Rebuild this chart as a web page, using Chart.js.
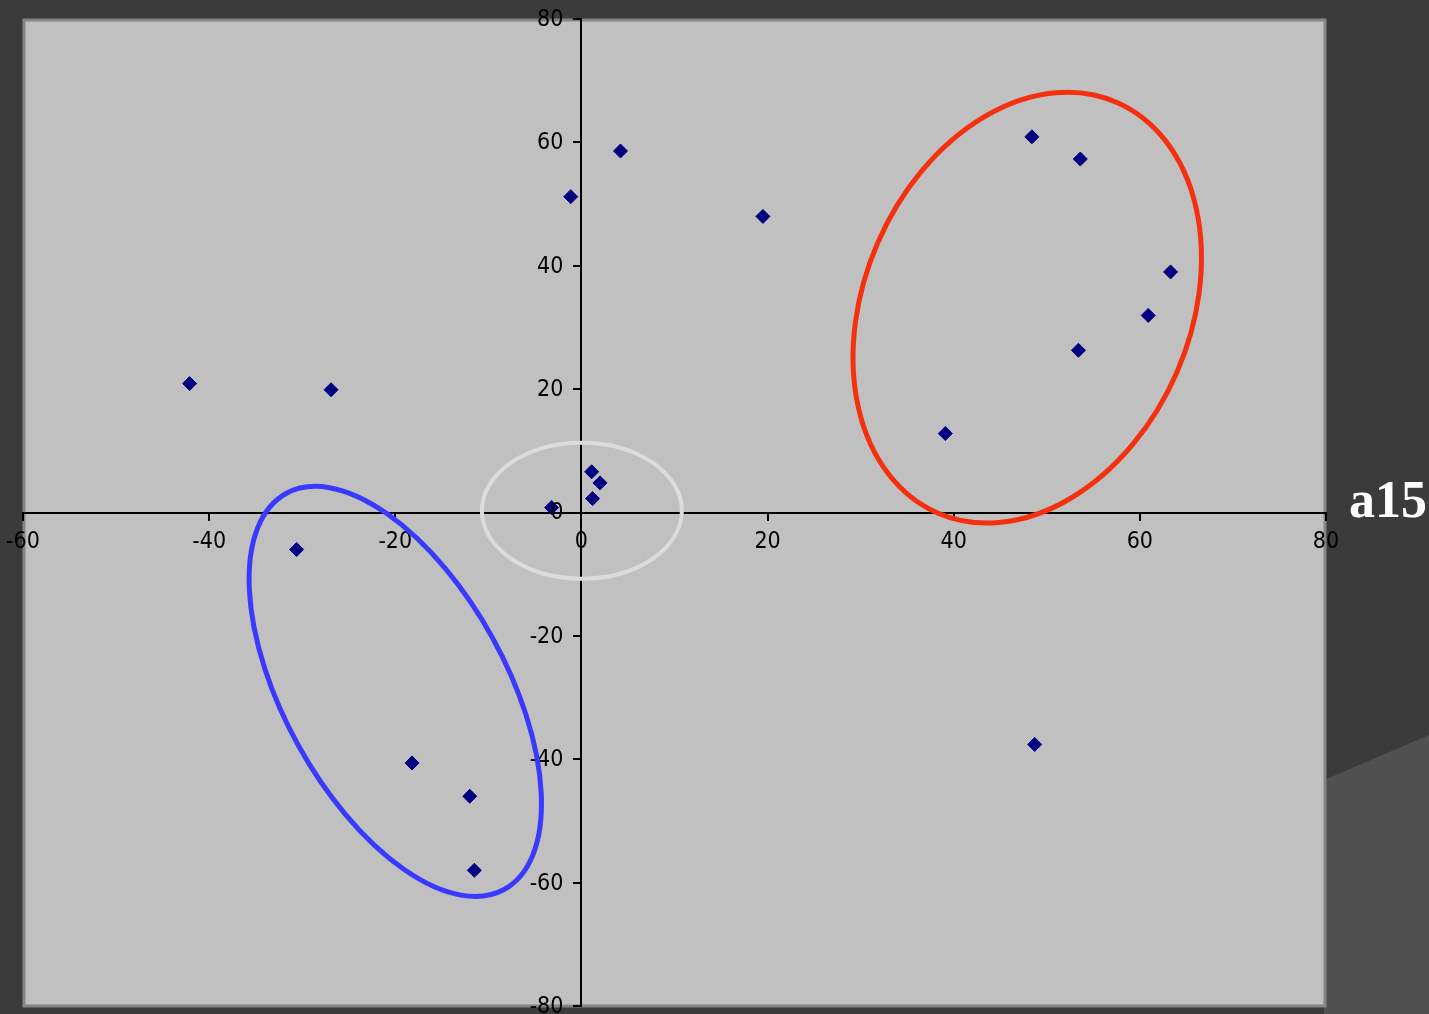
<!DOCTYPE html>
<html>
<head>
<meta charset="utf-8">
<title>a15</title>
<script src="https://cdn.jsdelivr.net/npm/chart.js@4.4.1/dist/chart.umd.min.js"></script>
<style>
  html, body { margin: 0; padding: 0; background: #3b3b3b; overflow: hidden; }
  #wrap { position: relative; width: 1429px; height: 1014px; }
  #wedge {
    position: absolute; left: 0; top: 0; width: 1429px; height: 1014px;
    background: #505050;
    clip-path: polygon(1324px 780px, 1429px 735px, 1429px 1014px, 1324px 1014px);
  }
  #label {
    position: absolute; left: 1349px; top: 474px;
    font: bold 52px/52px "Liberation Serif", "Times New Roman", serif;
    color: #ffffff;
  }
  canvas { position: absolute; left: 0; top: 0; }
</style>
</head>
<body>
<div id="wrap">
  <div id="wedge"></div>
  <canvas id="chart" width="1429" height="1014"></canvas>
  <div id="label">a15</div>
</div>
<script>
// Values
const xValues = [-42.1, -26.9, -30.6, -18.2, -12.0, -11.5, -3.2, 1.1, 2.0, 1.2,
                 -1.15, 4.2, 19.5, 48.4, 53.6, 63.3, 60.9, 53.4, 39.1, 48.7];
const yValues = [20.9, 19.9, -6.0, -40.6, -46.0, -58.0, 0.8, 6.6, 4.8, 2.25,
                 51.2, 58.6, 48.0, 60.9, 57.3, 39.0, 31.95, 26.3, 12.8, -37.6];
const xTicks = [-60, -40, -20, 0, 20, 40, 60, 80];
const yTicks = [-80, -60, -40, -20, 0, 20, 40, 60, 80];

// hand-drawn rings around the groups (centre in data units)
const rings = [
  { cx: 47.9, cy: 33.2, rx: 163, ry: 224, rot: 23.6, color: '#f5300f', width: 5 },
  { cx: -20.0, cy: -29.0, rx: 111, ry: 226, rot: -28.9, color: '#3a3aff', width: 5 },
  { cx: 0.05, cy: 0.3, rx: 100, ry: 68, rot: 0, color: '#dcdcdc', width: 4 }
];

const points = xValues.map((x, i) => ({ x, y: yValues[i] }));

const tickFont = { family: "'Liberation Sans Narrow', 'DejaVu Sans Condensed', 'Liberation Sans', Arial", size: 23 };

const plotBackground = {
  id: 'plotBackground',
  beforeDraw(chart) {
    const { ctx, chartArea: a } = chart;
    ctx.save();
    ctx.fillStyle = '#c0c0c0';
    ctx.fillRect(a.left, a.top, a.right - a.left, a.bottom - a.top);
    ctx.strokeStyle = '#858585';
    ctx.lineWidth = 3;
    ctx.strokeRect(a.left + 1, a.top + 1, a.right - a.left - 2, a.bottom - a.top - 1);
    ctx.restore();
  }
};

// y labels sit left of the crossing axis, Chart.js puts them flush against it
const yLabels = {
  id: 'yLabels',
  afterDraw(chart) {
    const { ctx, scales } = chart;
    const x0 = scales.x.getPixelForValue(0);
    ctx.save();
    ctx.font = `${tickFont.size}px ${tickFont.family}`;
    ctx.fillStyle = '#000';
    ctx.textAlign = 'right';
    ctx.textBaseline = 'middle';
    scales.y.ticks.forEach(t => {
      ctx.fillText(String(t.value), x0 - 18, scales.y.getPixelForValue(t.value) + 1);
    });
    ctx.restore();
  }
};

const ringPlugin = {
  id: 'rings',
  afterDraw(chart) {
    const { ctx, scales } = chart;
    ctx.save();
    rings.forEach(r => {
      ctx.beginPath();
      ctx.ellipse(scales.x.getPixelForValue(r.cx), scales.y.getPixelForValue(r.cy),
                  r.rx, r.ry, r.rot * Math.PI / 180, 0, Math.PI * 2);
      ctx.strokeStyle = r.color;
      ctx.lineWidth = r.width;
      ctx.stroke();
    });
    ctx.restore();
  }
};

new Chart(document.getElementById('chart'), {
  type: 'scatter',
  data: {
    datasets: [{
      data: points,
      pointStyle: 'rectRot',
      pointRadius: 7,
      pointBackgroundColor: '#000080',
      pointBorderColor: '#000080',
      pointBorderWidth: 1
    }]
  },
  options: {
    responsive: false,
    animation: false,
    layout: { padding: { left: 23, right: 103, top: 19, bottom: 7 } },
    plugins: { legend: { display: false }, tooltip: { enabled: false } },
    scales: {
      x: {
        type: 'linear',
        position: { y: 0 },
        min: -60, max: 80,
        afterBuildTicks: s => { s.ticks = xTicks.map(v => ({ value: v })); },
        afterFit: s => { s.paddingLeft = 0; s.paddingRight = 0; },
        grid: { drawOnChartArea: false, drawTicks: true, tickLength: 7, color: '#000', lineWidth: 2 },
        border: { color: '#000', width: 2 },
        ticks: { color: '#000', font: tickFont, padding: 9, maxRotation: 0, autoSkip: false }
      },
      y: {
        type: 'linear',
        position: { x: 0 },
        min: -80, max: 80,
        afterBuildTicks: s => { s.ticks = yTicks.map(v => ({ value: v })); },
        afterFit: s => { s.paddingTop = 0; s.paddingBottom = 0; },
        grid: { drawOnChartArea: false, drawTicks: true, tickLength: 7, color: '#000', lineWidth: 2 },
        border: { color: '#000', width: 2 },
        ticks: { display: false, autoSkip: false }
      }
    }
  },
  plugins: [plotBackground, yLabels, ringPlugin]
});
</script>
</body>
</html>
